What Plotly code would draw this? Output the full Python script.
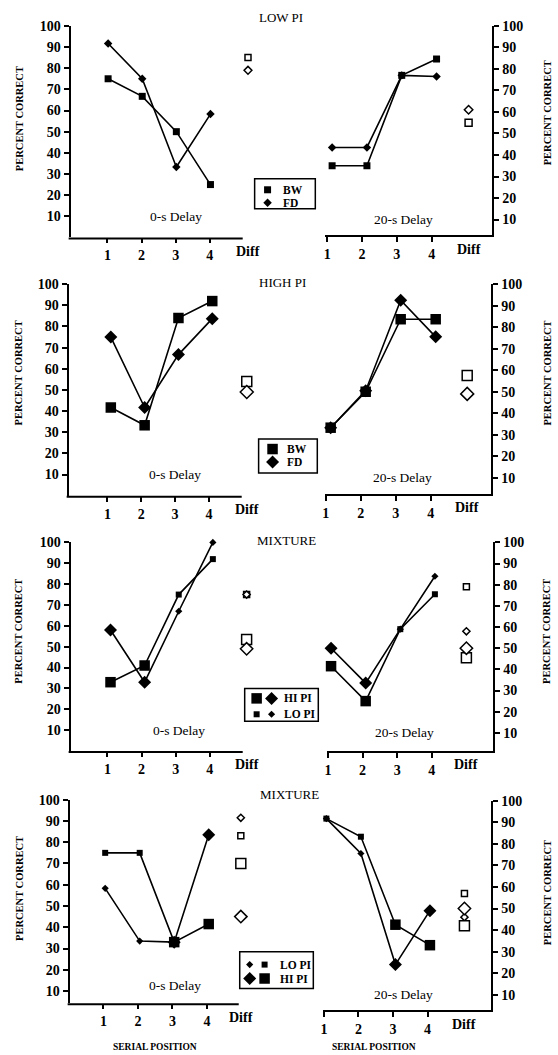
import plotly.graph_objects as go

W, H = 558, 1055
SERIF = "Liberation Serif"

# ---------------- text ----------------
PANEL_TITLES = ["LOW PI", "HIGH PI", "MIXTURE", "MIXTURE"]
DELAY_LABELS = ["0-s Delay", "20-s Delay"]
POSITIONS = [1, 2, 3, 4]
X_TICK_TEXT = ["1", "2", "3", "4"]
DIFF_TEXT = "Diff"
Y_TICKS = [10, 20, 30, 40, 50, 60, 70, 80, 90, 100]
Y_TITLE = "PERCENT CORRECT"
X_TITLE = "SERIAL POSITION"

# ---------------- data ----------------
# Panel 1: LOW PI  (BW = square, FD = diamond)
LOW_0_BW = [75, 66.7, 50, 25]
LOW_0_FD = [91.7, 75, 33.3, 58.3]
LOW_0_DIFF_BW = 85
LOW_0_DIFF_FD = 79
LOW_20_BW = [35, 35, 77, 84.6]
LOW_20_FD = [43.5, 43.5, 77, 76.5]
LOW_20_DIFF_BW = 55
LOW_20_DIFF_FD = 61

# Panel 2: HIGH PI
HIGH_0_BW = [41.7, 33.3, 84, 92]
HIGH_0_FD = [75, 41.7, 66.7, 83.7]
HIGH_0_DIFF_BW = 54
HIGH_0_DIFF_FD = 49
HIGH_20_BW = [33.3, 50, 83.7, 83.7]
HIGH_20_FD = [33.3, 50.5, 92.5, 75.5]
HIGH_20_DIFF_BW = 57.5
HIGH_20_DIFF_FD = 49

# Panel 3: MIXTURE (HI PI items first)
MIX1_TYPES = ["HI", "HI", "LO", "LO"]
MIX1_0_BW = [33, 41, 75, 92]
MIX1_0_FD = [58, 33, 67, 100]
MIX1_0_DIFF = {"LO_BW": 75, "LO_FD": 75, "HI_BW": 53.5, "HI_FD": 49}
MIX1_20_BW = [41.5, 25, 59, 75.5]
MIX1_20_FD = [50, 33.5, 59, 84]
MIX1_20_DIFF = {"LO_BW": 79, "LO_FD": 58, "HI_BW": 45.5, "HI_FD": 50}

# Panel 4: MIXTURE (LO PI items first)
MIX2_TYPES = ["LO", "LO", "HI", "HI"]
MIX2_0_BW = [75, 75, 33, 41.5]
MIX2_0_FD = [58.3, 33.5, 33, 83.5]
MIX2_0_DIFF = {"LO_BW": 83, "LO_FD": 91.5, "HI_BW": 70, "HI_FD": 45}
MIX2_20_BW = [91.7, 83.3, 42.5, 33]
MIX2_20_FD = [91.7, 75.5, 24, 49]
MIX2_20_DIFF = {"LO_BW": 57, "LO_FD": 46, "HI_BW": 42, "HI_FD": 50}

LEGEND_BW_FD = ["BW", "FD"]
LEGEND_MIX1 = ["HI PI", "LO PI"]
LEGEND_MIX2 = ["LO PI", "HI PI"]

# ---------------- geometry (pixels) ----------------
# x_axis_start, x_axis_end, pos1_px, px_per_unit, y_top(100), y_bottom, y_min, point_shift, diff_pos, label_x, label_y
GEOM = [
    (68, 241, 105, 34.3, 19, 232, 0.0, 0.02, 5.12, 3.0, 10),
    (324, 492, 326, 35.0, 19, 230, 2.6, 0.14, 5.06, 3.2, 10),
    (66, 240, 105, 34.0, 279, 492, 0.0, 0.10, 5.12, 3.0, 10),
    (324, 491, 324.5, 35.2, 279, 490, 2.6, 0.14, 5.04, 3.2, 10),
    (68, 241, 105, 34.3, 539, 749, 0.0, 0.09, 5.08, 3.1, 10),
    (325.7, 493, 326.7, 34.8, 539, 749, 1.4, 0.09, 5.0, 3.2, 10),
    (67, 237, 101, 34.7, 798, 1003, 4.2, 0.05, 4.98, 3.07, 12.5),
    (322, 491, 322.7, 34.7, 799, 1010, 2.8, 0.07, 5.07, 3.3, 10),
]

SQ, DI = "square", "diamond"
SIZE = {
    "P1": {SQ: 7, DI: 6.5},
    "P2": {SQ: 10.5, DI: 10},
    "HI": {SQ: 10.5, DI: 10},
    "LO": {SQ: 6, DI: 5.5},
}

fig = go.Figure()


def xid(k):
    return "x" if k == 0 else f"x{k + 1}"


def yid(k):
    return "y" if k == 0 else f"y{k + 1}"


def add_series(k, y, symbol, sizes):
    shift = GEOM[k][7]
    fig.add_trace(go.Scatter(
        x=[p + shift for p in POSITIONS], y=y, mode="lines+markers",
        line=dict(color="black", width=1.6),
        marker=dict(symbol=symbol, size=sizes, color="black", opacity=1, line=dict(width=0)),
        xaxis=xid(k), yaxis=yid(k), showlegend=False, cliponaxis=False, hoverinfo="skip"))


def add_diff(k, ys, symbols, sizes):
    dpos = GEOM[k][8]
    fig.add_trace(go.Scatter(
        x=[dpos] * len(ys), y=ys, mode="markers",
        marker=dict(symbol=symbols, size=sizes, color="white", opacity=1,
                    line=dict(color="black", width=1.5)),
        xaxis=xid(k), yaxis=yid(k), showlegend=False, cliponaxis=False, hoverinfo="skip"))


# Panel 1
add_series(0, LOW_0_BW, SQ, SIZE["P1"][SQ]); add_series(0, LOW_0_FD, DI, SIZE["P1"][DI])
add_diff(0, [LOW_0_DIFF_BW, LOW_0_DIFF_FD], [SQ, DI], [6, 6])
add_series(1, LOW_20_BW, SQ, SIZE["P1"][SQ]); add_series(1, LOW_20_FD, DI, SIZE["P1"][DI])
add_diff(1, [LOW_20_DIFF_BW, LOW_20_DIFF_FD], [SQ, DI], [7, 6.5])
# Panel 2
add_series(2, HIGH_0_BW, SQ, SIZE["P2"][SQ]); add_series(2, HIGH_0_FD, DI, SIZE["P2"][DI])
add_diff(2, [HIGH_0_DIFF_BW, HIGH_0_DIFF_FD], [SQ, DI], [10, 10])
add_series(3, HIGH_20_BW, SQ, SIZE["P2"][SQ]); add_series(3, HIGH_20_FD, DI, SIZE["P2"][DI])
add_diff(3, [HIGH_20_DIFF_BW, HIGH_20_DIFF_FD], [SQ, DI], [10, 10])


def add_mix(k, types, bw, fd, diff):
    add_series(k, bw, SQ, [SIZE[t][SQ] for t in types])
    add_series(k, fd, DI, [SIZE[t][DI] for t in types])
    keys = ["LO_BW", "LO_FD", "HI_BW", "HI_FD"]
    syms = [SQ if key.endswith("BW") else DI for key in keys]
    sizes = [SIZE[key[:2]][s] * (0.95 if key[:2] == "HI" else 1.0) for key, s in zip(keys, syms)]
    add_diff(k, [diff[key] for key in keys], syms, sizes)


add_mix(4, MIX1_TYPES, MIX1_0_BW, MIX1_0_FD, MIX1_0_DIFF)
add_mix(5, MIX1_TYPES, MIX1_20_BW, MIX1_20_FD, MIX1_20_DIFF)
add_mix(6, MIX2_TYPES, MIX2_0_BW, MIX2_0_FD, MIX2_0_DIFF)
add_mix(7, MIX2_TYPES, MIX2_20_BW, MIX2_20_FD, MIX2_20_DIFF)

# ---------------- axes ----------------
tickfont = dict(family=SERIF, size=14, color="black", weight="bold")
layout_axes = {}
annotations = []
shapes = []
for k, g in enumerate(GEOM):
    xs, xe, p1, sp, yt, yb, ymin, shift, dpos, lx, ly = g
    right = k % 2 == 1
    # left panels: plotting area extends past the axis line to hold the Diff column
    xe_dom = xe if right else p1 + (dpos + 0.35 - 1) * sp
    r0 = 1 + (xs - p1) / sp
    r1 = 1 + (xe_dom - p1) / sp
    xname = "xaxis" if k == 0 else f"xaxis{k + 1}"
    yname = "yaxis" if k == 0 else f"yaxis{k + 1}"
    layout_axes[xname] = dict(
        domain=[xs / W, xe_dom / W], range=[r0, r1], anchor=yid(k),
        showline=right, linecolor="black", linewidth=2, mirror=False,
        tickmode="array", tickvals=POSITIONS, ticktext=X_TICK_TEXT,
        ticks="outside", ticklen=5, tickwidth=1.5, tickcolor="black",
        tickfont=tickfont, showgrid=False, zeroline=False, fixedrange=True)
    layout_axes[yname] = dict(
        domain=[1 - yb / H, 1 - yt / H], range=[ymin, 100], anchor=xid(k),
        side="right" if right else "left",
        showline=True, linecolor="black", linewidth=2,
        tickmode="array", tickvals=Y_TICKS, ticktext=[str(v) for v in Y_TICKS],
        ticks="outside", ticklen=5, tickwidth=1.5, tickcolor="black",
        tickfont=tickfont, showgrid=False, zeroline=False, fixedrange=True)
    if not right:
        shapes.append(dict(type="line", xref="x9", yref="y9", x0=xs - 2, x1=xe, y0=yb + 1, y1=yb + 1,
                           line=dict(color="black", width=2), layer="above"))
    # Diff label (pixel coords on overlay)
    annotations.append(dict(x=p1 + (dpos - 1) * sp, y=yb + 14, xref="x9", yref="y9",
                            text=DIFF_TEXT, showarrow=False, xanchor="center", yanchor="middle",
                            font=tickfont))
    # delay label
    annotations.append(dict(x=lx, y=ly, xref=xid(k), yref=yid(k), text=DELAY_LABELS[k % 2],
                            showarrow=False, xanchor="center", yanchor="middle",
                            font=dict(family=SERIF, size=13.5, color="black")))

# overlay pixel axes for titles & legends
layout_axes["xaxis9"] = dict(domain=[0, 1], range=[0, W], visible=False, fixedrange=True, anchor="y9")
layout_axes["yaxis9"] = dict(domain=[0, 1], range=[H, 0], visible=False, fixedrange=True, anchor="x9")

# panel titles
TITLE_POS = [(279, 11), (281, 277), (285, 537), (288, 793)]
for t, (px, py) in zip(PANEL_TITLES, TITLE_POS):
    annotations.append(dict(x=px, y=py, xref="x9", yref="y9", text=t, showarrow=False,
                            xanchor="center", yanchor="middle",
                            font=dict(family=SERIF, size=13, color="black")))

# y titles
YT_LEFT = [112, 368, 628, 887]
YT_RIGHT = [107, 369, 629, 892]
for yl, yr in zip(YT_LEFT, YT_RIGHT):
    annotations.append(dict(x=16, y=yl, xref="x9", yref="y9", text=Y_TITLE, textangle=-90,
                            showarrow=False, xanchor="center", yanchor="middle",
                            font=dict(family=SERIF, size=10.5, color="black", weight="bold")))
    annotations.append(dict(x=547, y=yr, xref="x9", yref="y9", text=Y_TITLE, textangle=-90,
                            showarrow=False, xanchor="center", yanchor="middle",
                            font=dict(family=SERIF, size=10.5, color="black", weight="bold")))

# x titles
for px in (153, 373):
    annotations.append(dict(x=px, y=1047, xref="x9", yref="y9", text=X_TITLE, showarrow=False,
                            xanchor="center", yanchor="middle",
                            font=dict(family=SERIF, size=9.5, color="black", weight="bold")))

# ---------------- legends ----------------
legfont = dict(family=SERIF, size=11.5, color="black", weight="bold")
LEG_BOXES = [(253, 173, 314, 203), (257, 435, 316, 469), (243, 686, 317, 719), (238, 951, 312, 988)]
for (x0, y0, x1, y1) in LEG_BOXES:
    shapes.append(dict(type="rect", xref="x9", yref="y9", x0=x0, y0=y0, x1=x1, y1=y1,
                       line=dict(color="black", width=1.5), fillcolor="rgba(0,0,0,0)", layer="above"))

leg_x, leg_y, leg_sym, leg_size = [], [], [], []


def leg_marker(px, py, sym, size):
    leg_x.append(px); leg_y.append(py); leg_sym.append(sym); leg_size.append(size)


def leg_text(px, py, txt):
    annotations.append(dict(x=px, y=py, xref="x9", yref="y9", text=txt, showarrow=False,
                            xanchor="left", yanchor="middle", font=legfont))


# legend 1
leg_marker(266, 184, SQ, 7); leg_text(279, 184, LEGEND_BW_FD[0])
leg_marker(266, 197, DI, 6.5); leg_text(279, 197, LEGEND_BW_FD[1])
# legend 2
leg_marker(271, 445, SQ, 10.5); leg_text(284, 445, LEGEND_BW_FD[0])
leg_marker(271, 458, DI, 10); leg_text(284, 458, LEGEND_BW_FD[1])
# legend 3
leg_marker(255, 696, SQ, 10.5); leg_marker(270, 696, DI, 10); leg_text(281, 696, LEGEND_MIX1[0])
leg_marker(255, 712, SQ, 6); leg_marker(270, 712, DI, 5.5); leg_text(281, 712, LEGEND_MIX1[1])
# legend 4
leg_marker(248, 964, DI, 5.5); leg_marker(263, 964, SQ, 6); leg_text(276, 964, LEGEND_MIX2[0])
leg_marker(248, 978, DI, 10); leg_marker(263, 978, SQ, 10.5); leg_text(276, 978, LEGEND_MIX2[1])

fig.add_trace(go.Scatter(x=leg_x, y=leg_y, mode="markers", xaxis="x9", yaxis="y9",
                         marker=dict(symbol=leg_sym, size=leg_size, color="black", opacity=1,
                                     line=dict(width=0)),
                         showlegend=False, hoverinfo="skip"))

fig.update_layout(
    width=W, height=H, margin=dict(l=0, r=0, t=0, b=0),
    paper_bgcolor="white", plot_bgcolor="rgba(0,0,0,0)", showlegend=False,
    annotations=annotations, shapes=shapes, **layout_axes)

fig.write_html("out.html")
